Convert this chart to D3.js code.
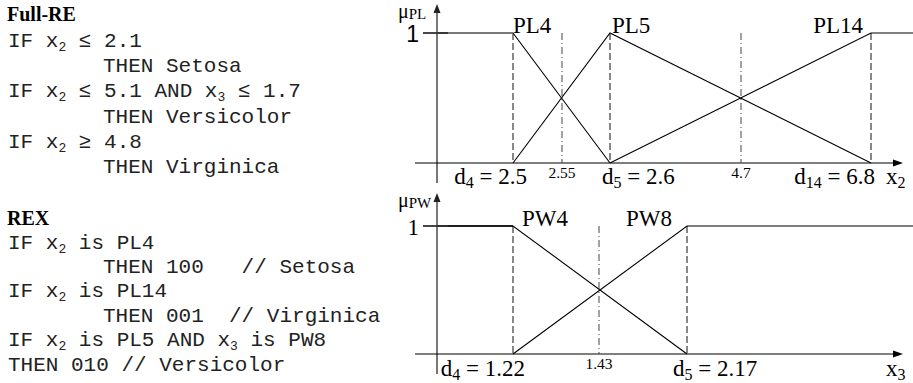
<!DOCTYPE html>
<html><head><meta charset="utf-8">
<script src="https://cdn.jsdelivr.net/npm/d3@7"></script>
<style>
html,body{margin:0;padding:0;background:#fff;}
svg{display:block;}
</style></head>
<body>
<script>
// ---------------- data ----------------
const fullRETitle = "Full-RE";
const fullRELines = ["IF x_2 ≤ 2.1", "THEN Setosa", "IF x_2 ≤ 5.1 AND x_3 ≤ 1.7", "THEN Versicolor", "IF x_2 ≥ 4.8", "THEN Virginica"];
const fullREIndent = [0, 1, 0, 1, 0, 1];
const rexTitle = "REX";
const rexLines = ["IF x_2 is PL4", "THEN 100   // Setosa", "IF x_2 is PL14", "THEN 001  // Virginica", "IF x_2 is PL5 AND x_3 is PW8", "THEN 010 // Versicolor"];
const rexIndent = [0, 1, 0, 1, 0, 0];

// petal length (x2) membership functions
const plDomain = [0, 2.5, 2.55, 2.6, 4.7, 6.8, 7.5];
const plTicks = [2.5, 2.55, 2.6, 4.7, 6.8];
const plTickText = ["d_4 = 2.5", "2.55", "d_5 = 2.6", "4.7", "d_14 = 6.8"];
const plNames = ["PL4", "PL5", "PL14"];
const plNamePos = [2.5, 2.6, 6.8];
const pl4 = [[0, 1], [2.5, 1], [2.6, 0]];
const pl5 = [[2.5, 0], [2.6, 1], [6.8, 0]];
const pl14 = [[2.6, 0], [6.8, 1], [7.5, 1]];

// petal width (x3) membership functions
const pwDomain = [0, 1.22, 1.43, 2.17, 3.2];
const pwTicks = [1.22, 1.43, 2.17];
const pwTickText = ["d_4 = 1.22", "1.43", "d_5 = 2.17"];
const pwNames = ["PW4", "PW8"];
const pwNamePos = [1.22, 2.17];
const pw4 = [[0, 1], [1.22, 1], [2.17, 0]];
const pw8 = [[1.22, 0], [2.17, 1], [3.2, 1]];

// ---------------- drawing ----------------
const W = 913, H = 383;
const svg = d3.select("body").append("svg").attr("width", W).attr("height", H);
const serif = "'Liberation Serif','Times New Roman',serif";
const mono = "'Liberation Mono','Courier New',monospace";
const sans = "'Liberation Sans',Arial,sans-serif";

// text with _n subscripts
function richText(sel, str, size, subSize, shift) {
  const parts = str.split(/_(\d+)/);
  parts.forEach((p, i) => {
    if (p === "") return;
    const isSub = i % 2 === 1;
    const t = sel.append("tspan").text(p);
    if (isSub) t.attr("font-size", subSize).attr("dy", shift);
    else if (i > 0) t.attr("dy", -shift);
  });
}

function rules(title, lines, indent, y0, first, step) {
  const g = svg.append("g");
  g.append("text").attr("x", 7).attr("y", y0).attr("font-family", serif)
    .attr("font-weight", "bold").attr("font-size", 20).text(title);
  lines.forEach((l, i) => {
    const t = g.append("text").attr("x", indent[i] ? 103 : 8).attr("y", y0 + first + i * step)
      .attr("font-family", mono).attr("font-size", 21).attr("fill", "#222")
      .style("white-space", "pre");
    richText(t, l, 21, 13, 4);
  });
}
rules(fullRETitle, fullRELines, fullREIndent, 21, 26, 25.2);
rules(rexTitle, rexLines, rexIndent, 225, 23.5, 24.4);

function panel(cfg) {
  const x = d3.scaleLinear().domain(cfg.domain).range(cfg.range);
  const y = d3.scaleLinear().domain([0, 1]).range([cfg.y0, cfg.y1]);
  const g = svg.append("g");
  const x0 = x(0);
  // y axis
  g.append("line").attr("x1", x0).attr("x2", x0).attr("y1", cfg.y0 + 20).attr("y2", cfg.yTop + 6)
    .attr("stroke", "#555").attr("stroke-width", 1.6);
  g.append("path").attr("d", `M${x0},${cfg.yTop} L${x0 - 3.5},${cfg.yTop + 9} L${x0 + 3.5},${cfg.yTop + 9}Z`).attr("fill", "#222");
  // x axis
  g.append("line").attr("x1", 415).attr("x2", 895).attr("y1", y(0)).attr("y2", y(0))
    .attr("stroke", "#000").attr("stroke-width", 1.2);
  g.append("path").attr("d", `M903,${y(0)} L893,${y(0) - 3.5} L893,${y(0) + 3.5}Z`).attr("fill", "#000");
  // vertical guides
  cfg.ticks.forEach((v, i) => {
    const mid = cfg.tickText[i].indexOf("d_") !== 0;
    g.append("line").attr("x1", x(v)).attr("x2", x(v)).attr("y1", y(1)).attr("y2", y(0))
      .attr("stroke", mid ? "#444" : "#111").attr("stroke-width", 1)
      .attr("stroke-dasharray", mid ? "7,3,1,3" : "7,3");
  });
  // membership lines
  const line = d3.line().x(d => x(d[0])).y(d => y(d[1]));
  cfg.sets.forEach((s) => {
    g.append("path").attr("d", line(s)).attr("fill", "none")
      .attr("stroke", "#000").attr("stroke-width", 1.1);
  });
  // plateau of first set (drawn in its own tone)
  g.append("path").attr("d", line(cfg.sets[0].slice(0, 2))).attr("fill", "none")
    .attr("stroke", cfg.firstColor).attr("stroke-width", 1.5);
  // tick at 1
  g.append("line").attr("x1", 423).attr("x2", 448).attr("y1", y(1)).attr("y2", y(1))
    .attr("stroke", "#333").attr("stroke-width", 1.8);
  g.append("text").attr("x", 419).attr("y", y(1) + 8.5).attr("text-anchor", "end")
    .attr("font-family", cfg.oneFont).attr("font-size", 23).text("1");
  // set names
  cfg.names.forEach((n, i) => {
    g.append("text").attr("x", x(cfg.namePos[i]) + cfg.nameDx[i]).attr("y", y(1))
      .attr("text-anchor", cfg.nameAnchor[i]).attr("font-family", serif).attr("font-size", 23).text(n);
  });
  // tick labels
  cfg.tickText.forEach((s, i) => {
    const mid = s.indexOf("d_") !== 0;
    const t = g.append("text").attr("x", x(cfg.ticks[i]) + cfg.tickDx[i])
      .attr("y", mid ? cfg.smallY : cfg.labelY)
      .attr("text-anchor", cfg.tickAnchor[i]).attr("font-family", serif)
      .attr("font-size", mid ? 15.5 : 23);
    richText(t, s, 23, 16, 4);
  });
  // axis titles
  const yl = g.append("text").attr("x", 398).attr("y", cfg.yTop + 14).attr("font-family", serif).attr("font-size", 20);
  yl.append("tspan").text("μ");
  yl.append("tspan").attr("font-size", 15).attr("dy", 1).text(cfg.muSub);
  const xl = g.append("text").attr("x", 886).attr("y", cfg.labelY).attr("font-family", serif).attr("font-size", 23);
  richText(xl, cfg.xTitle, 23, 16, 4);
}

panel({
  domain: plDomain, range: [437, 513, 562, 610, 741, 871, 913],
  y0: 163, y1: 33, yTop: 4, ticks: plTicks, tickText: plTickText,
  tickAnchor: ["end", "middle", "start", "middle", "end"], tickDx: [14, 0, -8, 0, 4],
  labelY: 184, smallY: 178, sets: [pl4, pl5, pl14], firstColor: "#777",
  names: plNames, namePos: plNamePos, nameAnchor: ["start", "start", "end"], nameDx: [0, 2, -8],
  oneFont: sans, muSub: "PL", xTitle: "x_2"
});
panel({
  domain: pwDomain, range: [437, 513, 599, 687, 913],
  y0: 354, y1: 226, yTop: 193, ticks: pwTicks, tickText: pwTickText,
  tickAnchor: ["end", "middle", "start"], tickDx: [12, 0, -14],
  labelY: 376, smallY: 369, sets: [pw4, pw8], firstColor: "#000",
  names: pwNames, namePos: pwNamePos, nameAnchor: ["start", "end"], nameDx: [9, -15],
  oneFont: serif, muSub: "PW", xTitle: "x_3"
});
</script>
</body></html>
